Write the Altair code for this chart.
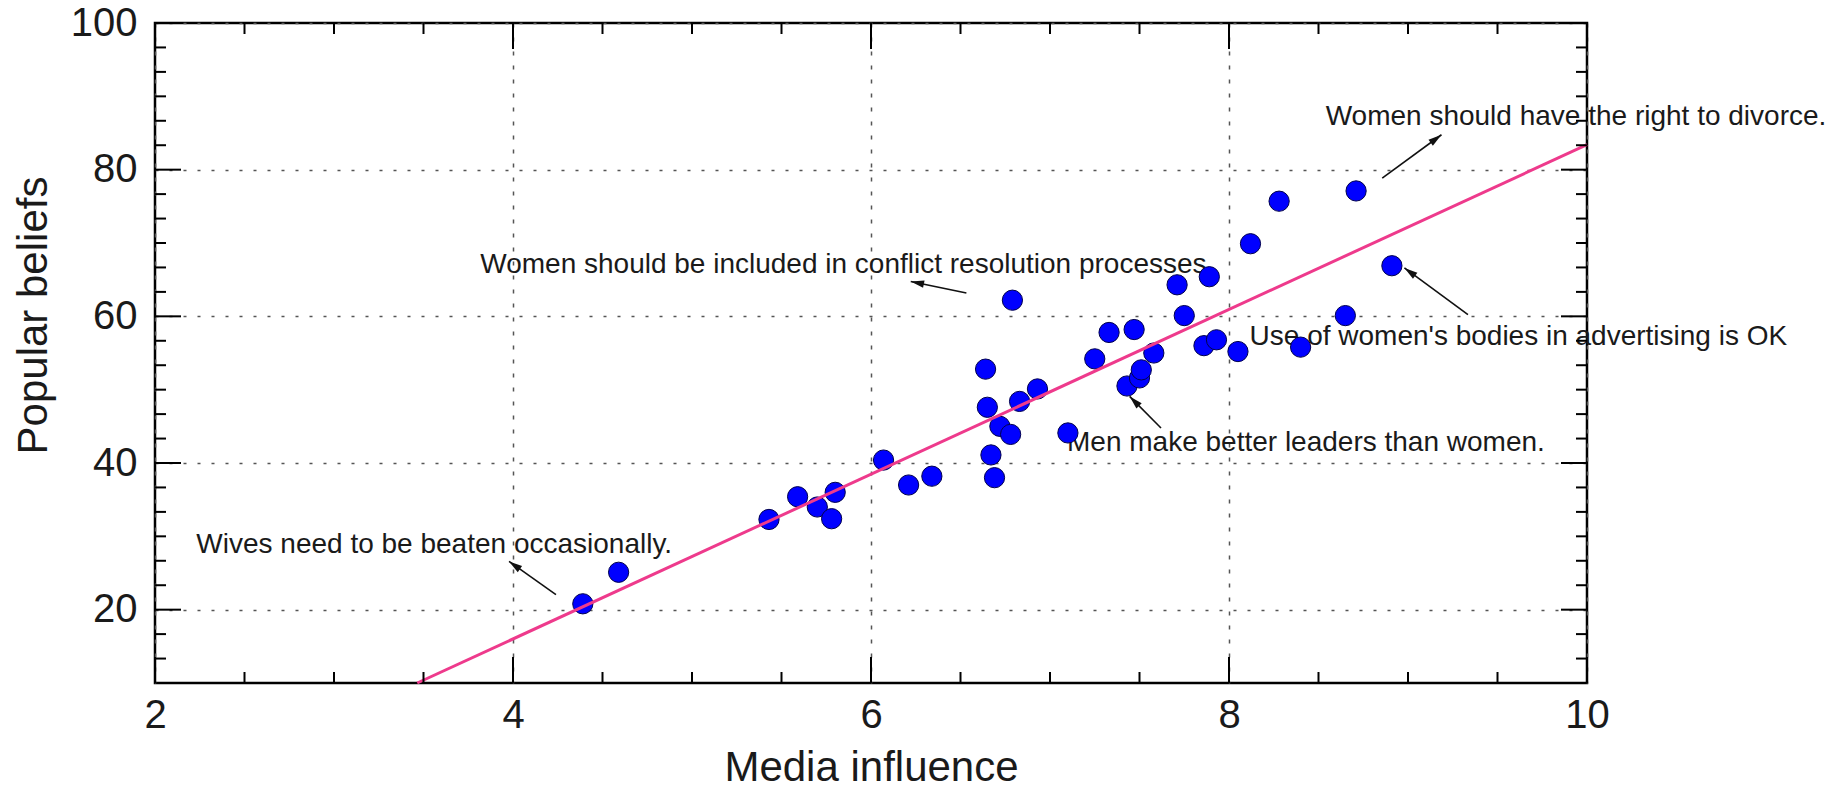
import math
import altair as alt
import pandas as pd

# ---- data ----
media = [4.39, 4.59, 5.43, 5.59, 5.70, 5.80, 5.78, 6.07, 6.21, 6.34,
         6.64, 6.65, 6.72, 6.78, 6.67, 6.69, 6.83, 6.93, 6.79, 7.10,
         7.25, 7.33, 7.47, 7.43, 7.50, 7.51, 7.58, 7.71, 7.75, 7.89,
         7.86, 7.93, 8.05, 8.12, 8.28, 8.40, 8.65, 8.71, 8.91]
beliefs = [20.8, 25.1, 32.3, 35.4, 34.0, 36.0, 32.4, 40.4, 37.0, 38.2,
           52.8, 47.6, 45.0, 43.9, 41.1, 38.0, 48.4, 50.1, 62.2, 44.1,
           54.2, 57.8, 58.2, 50.5, 51.6, 52.7, 55.0, 64.3, 60.1, 65.4,
           56.0, 56.8, 55.2, 69.9, 75.7, 55.8, 60.1, 77.1, 66.9]

fit_x = [3.465, 10.0]
fit_y = [10.0, 83.4]

ann_text = ["Women should have the right to divorce.",
            "Women should be included in conflict resolution processes",
            "Use of women's bodies in advertising is OK",
            "Men make better leaders than women.",
            "Wives need to be beaten occasionally."]
ann_x = [8.54, 3.817, 8.115, 7.095, 2.231]
ann_y = [87.2, 67.04, 57.22, 42.77, 28.86]
tail_x = [8.856, 6.533, 9.335, 7.62, 4.24]
tail_y = [78.86, 63.18, 60.22, 44.77, 22.04]
head_x = [9.187, 6.222, 8.98, 7.445, 3.978]
head_y = [84.76, 64.76, 66.6, 49.08, 26.58]

x_major = [2, 4, 6, 8, 10]
x_minor = [2.5, 3, 3.5, 4.5, 5, 5.5, 6.5, 7, 7.5, 8.5, 9, 9.5]
y_major = [20, 40, 60, 80, 100]
y_minor = [13.333, 16.667, 23.333, 26.667, 30, 33.333, 36.667,
           43.333, 46.667, 50, 53.333, 56.667, 63.333, 66.667, 70,
           73.333, 76.667, 83.333, 86.667, 90, 93.333, 96.667]

X_DOMAIN = [2, 10]
Y_DOMAIN = [10, 100]

# ---- layout ----
W, H = 1432, 660
PAD = {"left": 155, "top": 23, "right": 1839 - 155 - W, "bottom": 789 - 23 - H}
FONT = "Liberation Sans"
MAJ, MIN = 26, 11

xs = alt.Scale(domain=X_DOMAIN, nice=False, zero=False)
ys = alt.Scale(domain=Y_DOMAIN, nice=False, zero=False)

pts = pd.DataFrame({"media": media, "beliefs": beliefs})
fit = pd.DataFrame({"fx": fit_x, "fy": fit_y})
ann = pd.DataFrame({"t": ann_text, "ax": ann_x, "ay": ann_y,
                    "tx": tail_x, "ty": tail_y, "hx": head_x, "hy": head_y})
px_x = W / (X_DOMAIN[1] - X_DOMAIN[0])
px_y = H / (Y_DOMAIN[1] - Y_DOMAIN[0])
ann["ang"] = [
    math.degrees(math.atan2((hx - tx) * px_x, (hy - ty) * px_y)) % 360
    for hx, hy, tx, ty in zip(head_x, head_y, tail_x, tail_y)
]

x_axis = alt.Axis(values=x_major, format="d", labelFont=FONT, labelFontSize=40,
                  labelColor="#1a1a1a", labelPadding=12, labelFlush=False,
                  labelOverlap=False, labelBound=False,
                  ticks=False, domain=False, grid=True, gridColor="#555555",
                  gridDash=[4, 10], gridWidth=1.5,
                  title="Media influence", titleFont=FONT, titleFontSize=42,
                  titleFontWeight="normal", titleColor="#1a1a1a",
                  titleY=97, titleBaseline="alphabetic")
y_axis = alt.Axis(values=y_major, format="d", labelFont=FONT, labelFontSize=40,
                  labelColor="#1a1a1a", labelPadding=18, labelFlush=False,
                  labelOverlap=False, labelBound=False,
                  ticks=False, domain=False, grid=True, gridColor="#555555",
                  gridDash=[3, 11], gridWidth=1.5,
                  title="Popular beliefs", titleFont=FONT, titleFontSize=42,
                  titleFontWeight="normal", titleColor="#1a1a1a",
                  titleAngle=270, titleAlign="center", titleBaseline="alphabetic",
                  titleX=-109, titleY=292)


def X(field):
    return alt.X(field, type="quantitative", scale=xs, axis=x_axis)


def Y(field):
    return alt.Y(field, type="quantitative", scale=ys, axis=y_axis)


points = alt.Chart(pts).mark_point(filled=True, shape="circle", size=410,
                                   fill="#0000FF", stroke="#00004d", strokeWidth=1,
                                   opacity=1).encode(x=X("media"), y=Y("beliefs"))

line = alt.Chart(fit).mark_line(color="#EE3A8C", strokeWidth=3).encode(
    x=X("fx"), y=Y("fy"))

texts = alt.Chart(ann).mark_text(align="left", baseline="middle", font=FONT,
                                 fontSize=28, color="#1a1a1a").encode(
    x=X("ax"), y=Y("ay"), text="t:N")

arrows = alt.Chart(ann).mark_rule(color="#111111", strokeWidth=1.6).encode(
    x=X("tx"), y=Y("ty"), x2="hx:Q", y2="hy:Q")

heads = alt.Chart(ann).mark_point(filled=True, shape="M0,0L0.5,1.8L-0.5,1.8Z",
                                  size=220, color="#111111", opacity=1).encode(
    x=X("hx"), y=Y("hy"), angle=alt.Angle("ang:Q", scale=None))

# inward ticks on all four sides
xt_maj = pd.DataFrame({"v": x_major})
xt_min = pd.DataFrame({"v": x_minor})
yt_maj = pd.DataFrame({"v": y_major})
yt_min = pd.DataFrame({"v": y_minor})

tick_layers = []
for df, ln in ((xt_maj, MAJ), (xt_min, MIN)):
    for y0, y1 in ((H, H - ln), (0, ln)):
        tick_layers.append(
            alt.Chart(df).mark_rule(color="black", strokeWidth=2).encode(
                x=X("v"), y=alt.value(y0), y2=alt.value(y1)))
for df, ln in ((yt_maj, MAJ), (yt_min, MIN)):
    for x0, x1 in ((0, ln), (W, W - ln)):
        tick_layers.append(
            alt.Chart(df).mark_rule(color="black", strokeWidth=2).encode(
                y=Y("v"), x=alt.value(x0), x2=alt.value(x1)))

chart = alt.layer(texts, points, arrows, heads, line, *tick_layers).properties(
    width=W, height=H,
    autosize=alt.AutoSizeParams(type="none"),
    padding=PAD,
    background="white",
).configure_view(stroke="black", strokeWidth=2.5)

chart.save("out.html", embed_options={"renderer": "svg", "actions": False})
